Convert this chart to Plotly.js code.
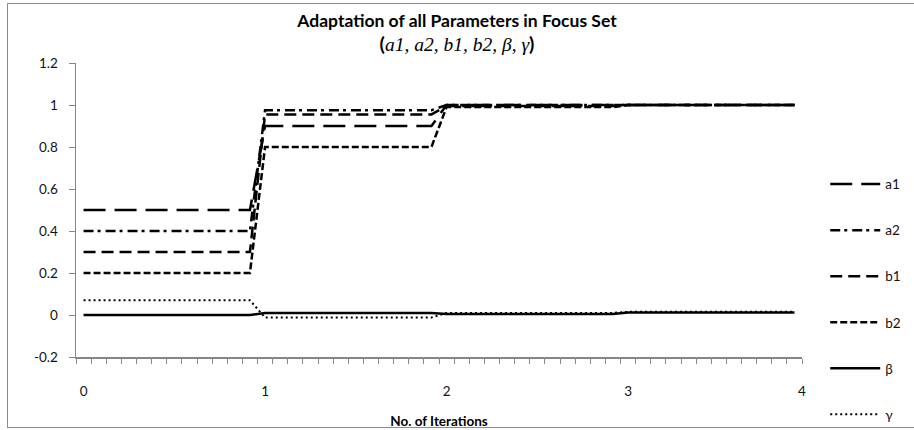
<!DOCTYPE html>
<html>
<head>
<meta charset="utf-8">
<script src="https://cdn.plot.ly/plotly-3.0.1.min.js"></script>
<style>
  html, body { margin: 0; padding: 0; background: #fff; }
  #wrap { position: relative; width: 914px; height: 430px; }
  #chart { width: 914px; height: 430px; }
  #frame { position: absolute; left: 7px; top: 3px; width: 912px; height: 425px;
           border: 1px solid #8c8c8c; pointer-events: none; box-sizing: border-box; }
</style>
</head>
<body>
<div id="wrap">
  <div id="chart"></div>
  <div id="frame"></div>
</div>
<script>
// Category index of each sample (12 samples per iteration)
const iterIndex = [0,1,2,3,4,5,6,7,8,9,10,11,12,13,14,15,16,17,18,19,20,21,22,23,
                   24,25,26,27,28,29,30,31,32,33,34,35,36,37,38,39,40,41,42,43,44,45,46,47];
const xTickPositions = [0, 12, 24, 36, 47.5];
const xTickLabels = ['0', '1', '2', '3', '4'];
const yTickValues = [-0.2, 0, 0.2, 0.4, 0.6, 0.8, 1, 1.2];
const yTickLabels = ['-0.2', '0', '0.2', '0.4', '0.6', '0.8', '1', '1.2'];

const a1 = [0.5,0.5,0.5,0.5,0.5,0.5,0.5,0.5,0.5,0.5,0.5,0.5,
            0.9,0.9,0.9,0.9,0.9,0.9,0.9,0.9,0.9,0.9,0.9,0.9,
            1,1,1,1,1,1,1,1,1,1,1,1,
            1,1,1,1,1,1,1,1,1,1,1,1];
const a2 = [0.4,0.4,0.4,0.4,0.4,0.4,0.4,0.4,0.4,0.4,0.4,0.4,
            0.975,0.975,0.975,0.975,0.975,0.975,0.975,0.975,0.975,0.975,0.975,0.975,
            1,1,1,1,1,1,1,1,1,1,1,1,
            1,1,1,1,1,1,1,1,1,1,1,1];
const b1 = [0.3,0.3,0.3,0.3,0.3,0.3,0.3,0.3,0.3,0.3,0.3,0.3,
            0.955,0.955,0.955,0.955,0.955,0.955,0.955,0.955,0.955,0.955,0.955,0.955,
            0.995,0.995,0.995,0.995,0.995,0.995,0.995,0.995,0.995,0.995,0.995,0.995,
            1,1,1,1,1,1,1,1,1,1,1,1];
const b2 = [0.2,0.2,0.2,0.2,0.2,0.2,0.2,0.2,0.2,0.2,0.2,0.2,
            0.8,0.8,0.8,0.8,0.8,0.8,0.8,0.8,0.8,0.8,0.8,0.8,
            0.99,0.99,0.99,0.99,0.99,0.99,0.99,0.99,0.99,0.99,0.99,0.99,
            1,1,1,1,1,1,1,1,1,1,1,1];
const beta = [0,0,0,0,0,0,0,0,0,0,0,0,
              0.01,0.01,0.01,0.01,0.01,0.01,0.01,0.01,0.01,0.01,0.01,0.01,
              0.005,0.005,0.005,0.005,0.005,0.005,0.005,0.005,0.005,0.005,0.005,0.005,
              0.012,0.012,0.012,0.012,0.012,0.012,0.012,0.012,0.012,0.012,0.012,0.012];
const gamma = [0.07,0.07,0.07,0.07,0.07,0.07,0.07,0.07,0.07,0.07,0.07,0.07,
               -0.012,-0.012,-0.012,-0.012,-0.012,-0.012,-0.012,-0.012,-0.012,-0.012,-0.012,-0.012,
               0.01,0.01,0.01,0.01,0.01,0.01,0.01,0.01,0.01,0.01,0.01,0.01,
               0.015,0.015,0.015,0.015,0.015,0.015,0.015,0.015,0.015,0.015,0.015,0.015];

const seriesNames = ['a1', 'a2', 'b1', 'b2', 'β', 'γ'];
const seriesValues = [a1, a2, b1, b2, beta, gamma];
const seriesDash = ['22px,9px', '10px,4px,3px,5px', '12px,6px', '7px,3px', 'solid', '2px,3px'];
const seriesWidth = [2.5, 2.5, 2.5, 2.5, 2.5, 2];

const traces = seriesNames.map((n, k) => ({
  x: iterIndex, y: seriesValues[k], name: n, type: 'scatter', mode: 'lines',
  legendgroup: 'g' + k,
  line: { color: '#000', width: seriesWidth[k], dash: seriesDash[k], shape: 'linear' },
  hoverinfo: 'skip'
}));

// category boundaries for the small x tick marks
const minorTickPositions = iterIndex.concat([48]).map(i => i - 0.5);

const axisGray = '#868686';
const layout = {
  width: 914, height: 430,
  margin: { l: 76, r: 112, t: 63, b: 73, autoexpand: false },
  paper_bgcolor: '#fff', plot_bgcolor: '#fff',
  font: { family: 'Lato, "Liberation Sans", sans-serif', size: 13, color: '#111' },
  title: {
    text: '<span style="font-size:17.5px"><b>Adaptation of all Parameters in Focus Set</b></span><br>' +
          '<span style="font-size:19.5px"><b>(</b><span style="font-family:\'Liberation Serif\', serif"><i>a1, a2, b1, b2, β, γ</i></span><b>)</b></span>',
    x: 0.5, xref: 'container', y: 0.938, yanchor: 'top',
    font: { family: 'Lato, "Liberation Sans", sans-serif', size: 19, color: '#000' }
  },
  xaxis: {
    range: [-0.5, 47.5], automargin: false,
    tickmode: 'array', tickvals: xTickPositions, ticktext: xTickLabels,
    ticks: '', showgrid: false, zeroline: false,
    showline: true, linecolor: axisGray, linewidth: 1.5,
    ticklabelstandoff: 21,
    tickfont: { size: 13.5, color: '#111' },
    minor: { tickmode: 'array', tickvals: minorTickPositions, ticks: 'outside', ticklen: 5,
             tickcolor: axisGray, tickwidth: 1, showgrid: false },
    title: { text: '<b>No. of Iterations</b>', font: { size: 13.5, color: '#000' }, standoff: 19 }
  },
  yaxis: {
    range: [-0.2, 1.2], automargin: false,
    tickmode: 'array', tickvals: yTickValues, ticktext: yTickLabels,
    ticks: 'outside', ticklen: 6, tickcolor: axisGray, tickwidth: 1,
    showgrid: false, zeroline: false,
    showline: true, linecolor: axisGray, linewidth: 1.5,
    ticklabelstandoff: 8,
    tickfont: { size: 13.5, color: '#111' }
  },
  showlegend: true,
  legend: {
    x: 1.032, xanchor: 'left', y: 0.64, yanchor: 'top',
    font: { size: 13.5, color: '#111' },
    tracegroupgap: 25.5, bgcolor: 'rgba(0,0,0,0)', borderwidth: 0,
    itemwidth: 50
  }
};

Plotly.newPlot('chart', traces, layout, { displayModeBar: false, staticPlot: true });
</script>
</body>
</html>
